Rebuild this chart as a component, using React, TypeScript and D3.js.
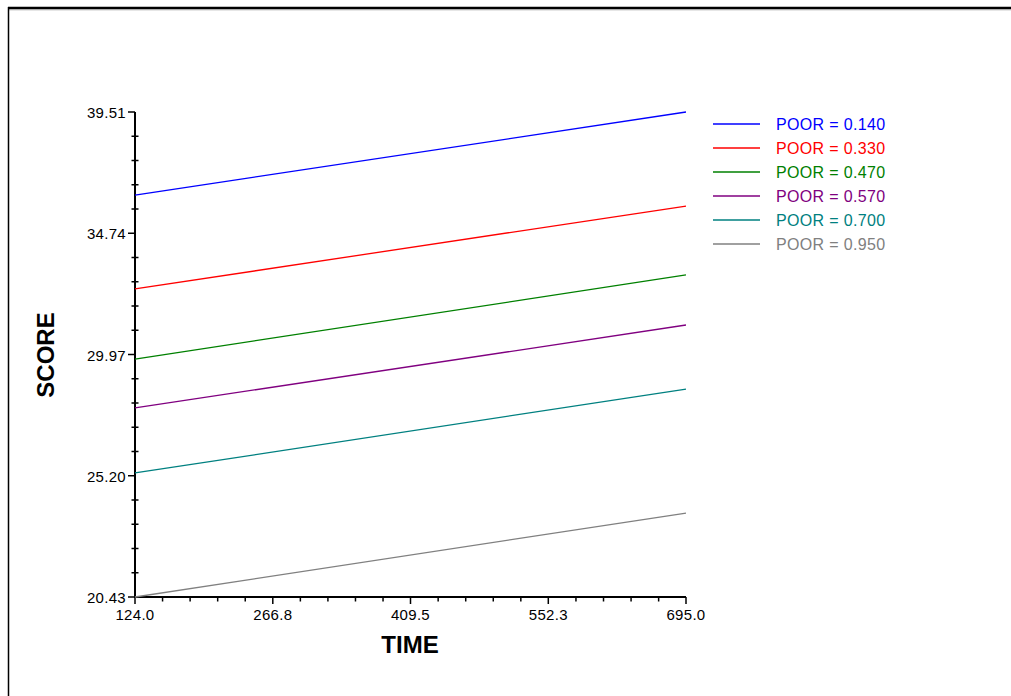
import * as d3 from 'd3';
import { useEffect, useRef } from 'react';

// chart values
const times = [124.0, 695.0];
const poorLabels = ['POOR = 0.140', 'POOR = 0.330', 'POOR = 0.470', 'POOR = 0.570', 'POOR = 0.700', 'POOR = 0.950'];
const scoreStart = [36.24, 32.55, 29.79, 27.87, 25.31, 20.43];
const scoreEnd = [39.51, 35.81, 33.10, 31.13, 28.61, 23.73];
const lineColors = ['#0000ff', '#ff0000', '#008000', '#800080', '#008080', '#808080'];
const xTicks = [124.0, 266.8, 409.5, 552.3, 695.0];
const yTicks = [20.43, 25.2, 29.97, 34.74, 39.51];

export default function App() {
  const svgRef = useRef<SVGSVGElement>(null);

  useEffect(() => {
    const w = 1011;
    const h = 696;
    const svg = d3.select(svgRef.current);
    svg.selectAll('*').remove();
    svg.attr('width', w).attr('height', h).style('background', 'white');

    const font = "'Liberation Sans', Arial, sans-serif";

    // outer frame
    svg.append('line').attr('x1', 8).attr('x2', w + 5).attr('y1', 8).attr('y2', 8)
      .attr('stroke', '#000').attr('stroke-width', 2.5);
    svg.append('line').attr('x1', 8).attr('x2', w + 5).attr('y1', 9.8).attr('y2', 9.8)
      .attr('stroke', '#999').attr('stroke-width', 0.8);
    svg.append('line').attr('x1', 8.5).attr('x2', 8.5).attr('y1', 7).attr('y2', h + 5)
      .attr('stroke', '#000').attr('stroke-width', 1.5);

    const x = d3.scaleLinear().domain([124.0, 695.0]).range([135, 686]);
    const y = d3.scaleLinear().domain([20.43, 39.51]).range([597, 112]);

    const g = svg.append('g');

    // minor ticks, 5 subdivisions between labels
    const xStep = (xTicks[1] - xTicks[0]) / 5;
    const xMinor = d3.range(0, 20).filter(i => i % 5 !== 0).map(i => xTicks[0] + i * xStep);
    const yStep = (yTicks[1] - yTicks[0]) / 5;
    const yMinor = d3.range(0, 20).filter(i => i % 5 !== 0).map(i => yTicks[0] + i * yStep);

    g.selectAll('.xminor').data(xMinor).enter().append('line')
      .attr('x1', d => x(d)).attr('x2', d => x(d)).attr('y1', 597).attr('y2', 601.5)
      .attr('stroke', '#000').attr('stroke-width', 1.5);
    g.selectAll('.yminor').data(yMinor).enter().append('line')
      .attr('x1', 131.5).attr('x2', 138.5).attr('y1', d => y(d)).attr('y2', d => y(d))
      .attr('stroke', '#000').attr('stroke-width', 1.5);

    // major ticks
    g.selectAll('.xmajor').data(xTicks).enter().append('line')
      .attr('x1', d => x(d)).attr('x2', d => x(d)).attr('y1', 597).attr('y2', 604)
      .attr('stroke', '#000').attr('stroke-width', 1.5);
    g.selectAll('.ymajor').data(yTicks).enter().append('line')
      .attr('x1', 128).attr('x2', 135).attr('y1', d => y(d)).attr('y2', d => y(d))
      .attr('stroke', '#000').attr('stroke-width', 1.5);

    // axis lines
    g.append('line').attr('x1', 135).attr('x2', 135).attr('y1', y(39.51)).attr('y2', 597.75)
      .attr('stroke', '#000').attr('stroke-width', 2);
    g.append('line').attr('x1', 134).attr('x2', x(695)).attr('y1', 597).attr('y2', 597)
      .attr('stroke', '#000').attr('stroke-width', 2);

    // tick labels
    g.selectAll('.xlab').data(xTicks).enter().append('text')
      .attr('x', d => x(d)).attr('y', 620)
      .attr('text-anchor', 'middle')
      .style('font', `15px ${font}`).style('letter-spacing', '0.3px').attr('fill', '#000')
      .text(d => d.toFixed(1));
    g.selectAll('.ylab').data(yTicks).enter().append('text')
      .attr('x', 126).attr('y', d => y(d) + 6)
      .attr('text-anchor', 'end')
      .style('font', `15px ${font}`).style('letter-spacing', '0.3px').attr('fill', '#000')
      .text(d => d.toFixed(2));

    // axis titles
    svg.append('text')
      .attr('x', 410).attr('y', 653)
      .attr('text-anchor', 'middle')
      .style('font', `bold 24px ${font}`)
      .text('TIME');
    svg.append('text')
      .attr('transform', 'translate(54,355) rotate(-90)')
      .attr('text-anchor', 'middle')
      .style('font', `bold 24px ${font}`)
      .text('SCORE');

    // series lines
    const line = d3.line<[number, number]>().x(d => x(d[0])).y(d => y(d[1]));
    poorLabels.forEach((lab, i) => {
      svg.append('path')
        .datum([[times[0], scoreStart[i]], [times[1], scoreEnd[i]]] as [number, number][])
        .attr('d', line)
        .attr('fill', 'none')
        .attr('stroke', lineColors[i])
        .attr('stroke-width', 1.3);
    });

    // legend
    const leg = svg.append('g');
    poorLabels.forEach((lab, i) => {
      const ly = 124 + i * 24;
      leg.append('line').attr('x1', 713).attr('x2', 760).attr('y1', ly).attr('y2', ly)
        .attr('stroke', lineColors[i]).attr('stroke-width', 1.3);
      leg.append('text').attr('x', 776).attr('y', ly + 6)
        .style('font', `16px ${font}`).style('letter-spacing', '0.35px')
        .attr('fill', lineColors[i])
        .text(lab);
    });
  });

  return (
    <svg ref={svgRef} style={{ position: 'absolute', left: 0, top: 0 }}></svg>
  );
}
